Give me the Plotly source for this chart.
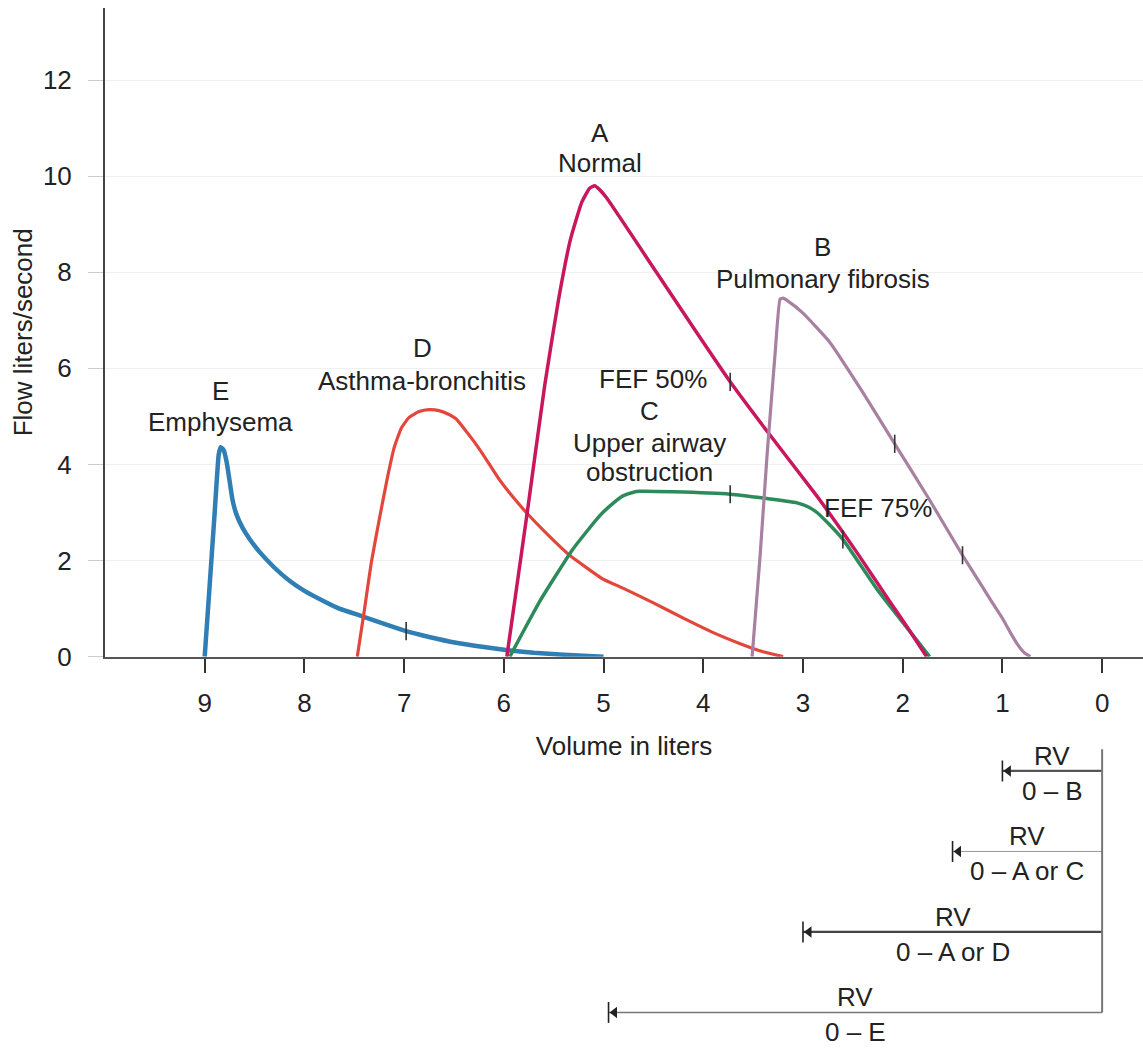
import plotly.graph_objects as go

# ---------------- data (volume in liters, flow in liters/second) ----------------
e_vol = [9.0, 8.95, 8.9, 8.86, 8.84, 8.81, 8.78, 8.75, 8.72, 8.68, 8.62, 8.55, 8.45, 8.3,
         8.15, 8.0, 7.8, 7.65, 7.42, 7.2, 6.98, 6.75, 6.48, 6.2, 5.98, 5.7, 5.4, 5.0]
e_flow = [0, 1.5, 3.0, 4.2, 4.36, 4.3, 4.05, 3.65, 3.25, 2.95, 2.68, 2.45, 2.18, 1.85,
          1.58, 1.37, 1.15, 1.0, 0.84, 0.68, 0.53, 0.41, 0.29, 0.2, 0.14, 0.08, 0.04, 0.0]

d_vol = [7.47, 7.4, 7.33, 7.25, 7.17, 7.1, 7.03, 6.95, 6.85, 6.75, 6.65, 6.55, 6.48, 6.4,
         6.3, 6.2, 6.05, 5.9, 5.77, 5.55, 5.34, 5.01, 4.8, 4.5, 4.2, 3.9, 3.63, 3.4, 3.2]
d_flow = [0, 0.95, 1.95, 2.85, 3.7, 4.35, 4.75, 4.98, 5.1, 5.14, 5.12, 5.04, 4.95, 4.75,
          4.48, 4.18, 3.7, 3.3, 2.99, 2.52, 2.11, 1.62, 1.42, 1.12, 0.8, 0.5, 0.27, 0.1, 0.0]

a_vol = [5.97, 5.77, 5.59, 5.45, 5.33, 5.22, 5.14, 5.09, 5.04, 4.97, 4.47, 4.1, 3.73,
         3.36, 2.86, 2.46, 2.13, 1.95, 1.76]
a_flow = [0, 2.93, 5.65, 7.45, 8.7, 9.45, 9.75, 9.8, 9.72, 9.55, 8.0, 6.85, 5.72,
          4.69, 3.34, 2.17, 1.15, 0.6, 0]

c_vol = [5.94, 5.64, 5.31, 5.04, 4.9, 4.81, 4.7, 4.64, 4.3, 3.73, 3.4, 3.06, 2.95,
         2.86, 2.75, 2.6, 2.26, 1.93, 1.73]
c_flow = [0, 1.15, 2.23, 2.93, 3.2, 3.34, 3.42, 3.44, 3.43, 3.38, 3.3, 3.2, 3.12,
          3.0, 2.78, 2.44, 1.41, 0.53, 0]

b_vol = [3.51, 3.43, 3.36, 3.28, 3.23, 3.2, 3.15, 3.0, 2.73, 2.4, 2.08, 1.73, 1.4,
         1.2, 1.09, 1.0, 0.92, 0.85, 0.78, 0.72]
b_flow = [0, 2.1, 4.2, 6.3, 7.44, 7.46, 7.4, 7.15, 6.54, 5.5, 4.43, 3.26, 2.11,
          1.45, 1.09, 0.8, 0.5, 0.26, 0.08, 0]

# small FEF marks on the curves
mark_vol = [3.73, 3.73, 2.6, 2.08, 1.4, 6.98]
mark_flow = [5.72, 3.38, 2.44, 4.43, 2.11, 0.53]

# curve labels
label_text = ["A", "Normal", "B", "Pulmonary fibrosis", "C", "Upper airway", "obstruction",
              "D", "Asthma-bronchitis", "E", "Emphysema", "FEF 50%", "FEF 75%"]
label_vol = [5.04, 5.04, 2.8, 2.8, 4.54, 4.54, 4.54, 6.82, 6.82, 8.84, 8.84, 4.5, 2.25]
label_flow = [10.9, 10.27, 8.52, 7.85, 5.12, 4.45, 3.84, 6.42, 5.74, 5.52, 4.88, 5.78, 3.09]

# residual volume bars
rv_text = ["0 – B", "0 – A or C", "0 – A or D", "0 – E"]
rv_volume = [1.0, 1.5, 3.0, 4.95]
rv_row = [4, 3, 2, 1]

x_ticks = [9, 8, 7, 6, 5, 4, 3, 2, 1, 0]
y_ticks = [0, 2, 4, 6, 8, 10, 12]

# ---------------- figure ----------------
FONT = "Liberation Sans, Arial, Helvetica, sans-serif"
FS = 26
fig = go.Figure()

curves = [
    (e_vol, e_flow, "#2f7fb4", 4.5),
    (d_vol, d_flow, "#e3473c", 3.2),
    (c_vol, c_flow, "#2d8a5a", 3.5),
    (a_vol, a_flow, "#c8175d", 3.5),
    (b_vol, b_flow, "#a880a2", 3.2),
]
for xs, ys, col, w in curves:
    fig.add_trace(go.Scatter(x=xs, y=ys, mode="lines",
                             line=dict(color=col, width=w, shape="spline", smoothing=0.4),
                             hoverinfo="skip", showlegend=False, xaxis="x", yaxis="y"))

fig.add_trace(go.Scatter(x=mark_vol, y=mark_flow, mode="markers",
                         marker=dict(symbol="line-ns", size=13, line=dict(color="#333", width=1.6)),
                         hoverinfo="skip", showlegend=False, xaxis="x", yaxis="y"))

# RV diagram (second subplot sharing the volume scale)
rv_widths = [2.2, 1.0, 2.2, 1.6]
rv_colors = ["#555", "#999", "#444", "#777"]
for rv, row, w, col in zip(rv_volume, rv_row, rv_widths, rv_colors):
    fig.add_trace(go.Scatter(x=[0, rv], y=[row, row], mode="lines", line=dict(color=col, width=w),
                             hoverinfo="skip", showlegend=False, xaxis="x2", yaxis="y2"))
    fig.add_trace(go.Scatter(x=[rv], y=[row], mode="markers",
                             marker=dict(symbol="line-ns", size=15, line=dict(color="#222", width=1.6)),
                             hoverinfo="skip", showlegend=False, xaxis="x2", yaxis="y2"))
    fig.add_trace(go.Scatter(x=[rv - 0.06], y=[row], mode="markers",
                             marker=dict(symbol="triangle-left", size=10, color="#222"),
                             hoverinfo="skip", showlegend=False, xaxis="x2", yaxis="y2"))
fig.add_trace(go.Scatter(x=[0, 0], y=[min(rv_row), max(rv_row) + 0.27], mode="lines",
                         line=dict(color="#777", width=2), hoverinfo="skip", showlegend=False,
                         xaxis="x2", yaxis="y2"))

annotations = []
for t, xv, yv in zip(label_text, label_vol, label_flow):
    annotations.append(dict(x=xv, y=yv, xref="x", yref="y", text=t, showarrow=False,
                            xanchor="center", yanchor="middle",
                            font=dict(family=FONT, size=FS, color="#222")))
for t, rv, row in zip(rv_text, rv_volume, rv_row):
    annotations.append(dict(x=rv / 2, y=row, xref="x2", yref="y2", text="RV", showarrow=False,
                            xanchor="center", yanchor="middle", yshift=15,
                            font=dict(family=FONT, size=FS, color="#222")))
    annotations.append(dict(x=rv / 2, y=row, xref="x2", yref="y2", text=t, showarrow=False,
                            xanchor="center", yanchor="middle", yshift=-20,
                            font=dict(family=FONT, size=FS, color="#222")))

fig.update_layout(
    width=1143, height=1059,
    margin=dict(l=105, r=0, t=8, b=0),
    paper_bgcolor="white", plot_bgcolor="white",
    font=dict(family=FONT, size=FS, color="#222"),
    showlegend=False,
    annotations=annotations,
    xaxis=dict(range=[10.0, -0.41], tickvals=x_ticks, ticks="outside", ticklen=14, tickwidth=1.5,
               tickcolor="#333", showline=True, linecolor="#555", linewidth=2, showgrid=False,
               zeroline=False, tickfont=dict(size=FS), ticklabelstandoff=8,
               title=dict(text="Volume in liters", font=dict(size=FS), standoff=20),
               domain=[0, 1], anchor="y"),
    yaxis=dict(range=[0, 13.5], tickvals=y_ticks, ticks="outside", ticklen=15, tickwidth=1,
               tickcolor="#cccccc", showline=True, linecolor="#444", linewidth=2, showgrid=True,
               gridcolor="#f0f0f0", gridwidth=1, zeroline=False, tickfont=dict(size=FS),
               ticklabelstandoff=11,
               title=dict(text="Flow liters/second", font=dict(size=FS), standoff=3),
               domain=[0.3739, 1], anchor="x"),
    xaxis2=dict(matches="x", anchor="y2", visible=False, domain=[0, 1]),
    yaxis2=dict(range=[0.608, 4.392], visible=False, domain=[0, 0.294], anchor="x2"),
)

fig.write_html("out.html")
